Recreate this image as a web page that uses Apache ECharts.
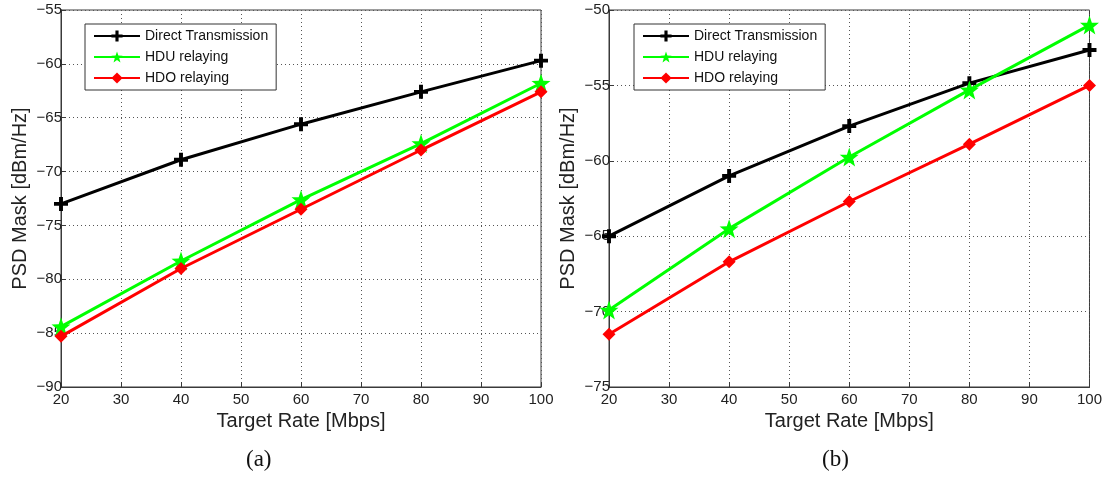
<!DOCTYPE html>
<html><head><meta charset="utf-8">
<script src="https://cdn.jsdelivr.net/npm/echarts@6/dist/echarts.min.js"></script>
<style>html,body{margin:0;padding:0;background:#fff}#c{width:1105px;height:481px}</style>
</head><body><div id="c"></div>
<script>
const rates = [20, 40, 60, 80, 100];
const seriesNames = ['Direct Transmission', 'HDU relaying', 'HDO relaying'];
// panel (a)
const directA = [-73.0, -68.9, -65.6, -62.6, -59.7];
const hduA = [-84.4, -78.3, -72.6, -67.4, -61.8];
const hdoA = [-85.3, -79.0, -73.5, -68.0, -62.6];
// panel (b)
const directB = [-65.0, -61.0, -57.7, -54.85, -52.65];
const hduB = [-69.9, -64.5, -59.75, -55.3, -51.0];
const hdoB = [-71.5, -66.7, -62.7, -58.9, -55.0];
const captions = ['(a)', '(b)'];
const xTitle = 'Target Rate [Mbps]';
const yTitle = 'PSD Mask [dBm/Hz]';

const plusPath = 'path://M3.6,0H6.4V3.6H10V6.4H6.4V10H3.6V6.4H0V3.6H3.6Z';
const starPath = 'path://M10,0L12.35,6.76L19.51,6.91L13.8,11.24L15.88,18.09L10,14L4.12,18.09L6.2,11.24L0.49,6.91L7.65,6.76Z';
const colors = ['#000000', '#00ff00', '#ff0000'];
const symbols = [plusPath, starPath, 'diamond'];
const symSizes = [14, 19, 13];

const font = 'Liberation Sans, Arial, sans-serif';
const grids = [
  {left: 61, top: 10, width: 480, height: 377, show: true, borderColor: '#3a3a3a', borderWidth: 1},
  {left: 609, top: 10, width: 481, height: 377, show: true, borderColor: '#3a3a3a', borderWidth: 1}
];
function xAx(i) {
  return {gridIndex: i, type: 'value', min: 20, max: 100, interval: 10,
    name: xTitle, nameLocation: 'middle', nameGap: 23,
    nameTextStyle: {fontFamily: font, fontSize: 20, color: '#222'},
    axisLine: {show: true, onZero: false, lineStyle: {color: '#3a3a3a'}},
    axisTick: {show: true, inside: true, length: 5, lineStyle: {color: '#3a3a3a'}},
    axisLabel: {fontFamily: font, fontSize: 15, color: '#222', margin: 5},
    splitLine: {show: true, lineStyle: {type: [1, 3], color: '#555'}}};
}
function yAx(i, min, max) {
  return {gridIndex: i, type: 'value', min: min, max: max, interval: 5,
    name: yTitle, nameLocation: 'middle', nameGap: 31,
    nameTextStyle: {fontFamily: font, fontSize: 20, color: '#222'},
    axisLine: {show: true, onZero: false, lineStyle: {color: '#3a3a3a'}},
    axisTick: {show: true, inside: true, length: 5, lineStyle: {color: '#3a3a3a'}},
    axisLabel: {fontFamily: font, fontSize: 15, color: '#222', margin: -1,
      formatter: v => (v < 0 ? '\u2212' + Math.abs(v) : String(v))},
    splitLine: {show: true, lineStyle: {type: [1, 3], color: '#555'}}};
}
function mk(name, k, data, gi) {
  return {name: name, type: 'line', xAxisIndex: gi, yAxisIndex: gi,
    data: rates.map((r, j) => [r, data[j]]),
    symbol: symbols[k], symbolSize: symSizes[k], showSymbol: true, clip: false,
    lineStyle: {color: colors[k], width: 3}, itemStyle: {color: colors[k]},
    z: 5 + k, animation: false};
}
function legend(left) {
  return {orient: 'vertical', left: left, top: 24, data: seriesNames,
    itemWidth: 46, itemHeight: 14, itemGap: 7, padding: [5, 8, 5, 8],
    backgroundColor: '#fff', borderColor: '#333', borderWidth: 1, borderRadius: 0,
    selectedMode: false,
    textStyle: {fontFamily: font, fontSize: 14, color: '#111'}};
}
const chart = echarts.init(document.getElementById('c'), null, {renderer: 'canvas'});
chart.setOption({
  animation: false,
  backgroundColor: '#fff',
  grid: grids,
  xAxis: [xAx(0), xAx(1)],
  yAxis: [yAx(0, -90, -55), yAx(1, -75, -50)],
  legend: [legend(85), legend(634)],
  series: [
    mk(seriesNames[0], 0, directA, 0), mk(seriesNames[1], 1, hduA, 0), mk(seriesNames[2], 2, hdoA, 0),
    mk(seriesNames[0], 0, directB, 1), mk(seriesNames[1], 1, hduB, 1), mk(seriesNames[2], 2, hdoB, 1)
  ],
  graphic: [
    {type: 'text', left: 246, top: 448, style: {text: captions[0], font: '23px "Liberation Serif", serif', fill: '#111'}},
    {type: 'text', left: 822, top: 448, style: {text: captions[1], font: '23px "Liberation Serif", serif', fill: '#111'}}
  ]
});
</script></body></html>
